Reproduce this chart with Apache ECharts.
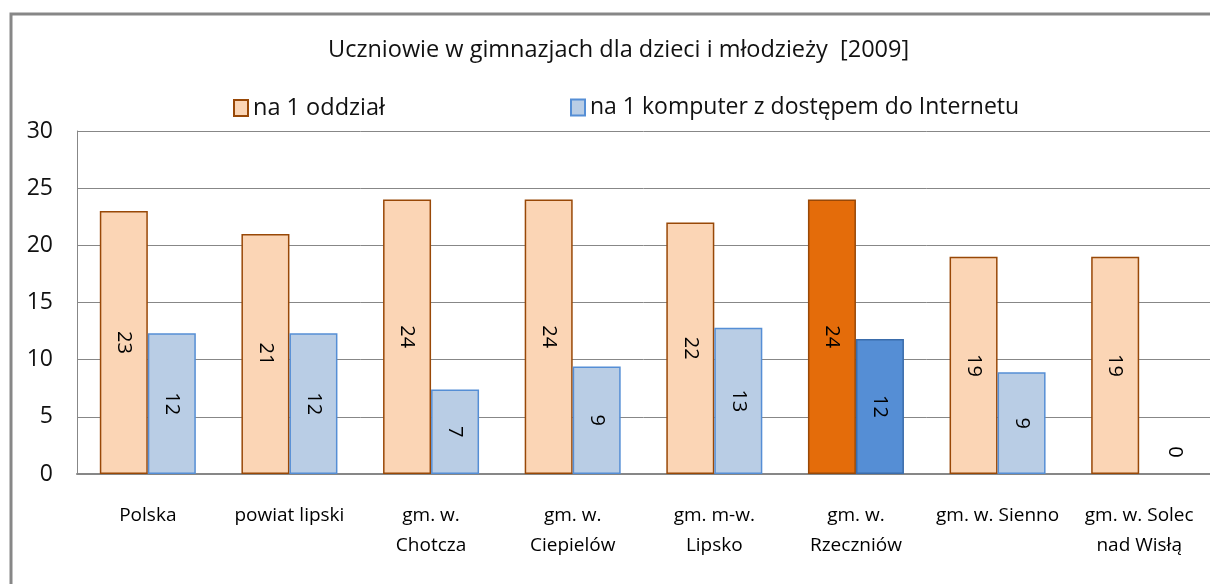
<!DOCTYPE html>
<html>
<head>
<meta charset="utf-8" />
<title>Uczniowie w gimnazjach</title>
<script src="https://cdn.jsdelivr.net/npm/echarts@6/dist/echarts.min.js"></script>
<style>
  body { margin: 0; background: #fff; }
  #main { width: 1210px; height: 584px; }
</style>
</head>
<body>
<div id="main"></div>
<script type="text/javascript">
    // dane
    var categories = ['Polska', 'powiat lipski', 'gm. w.\nChotcza', 'gm. w.\nCiepielów',
        'gm. m-w.\nLipsko', 'gm. w.\nRzeczniów', 'gm. w. Sienno', 'gm. w. Solec\nnad Wisłą'];
    var perClass = [23, 21, 24, 24, 22, 24, 19, 19];
    var perComputer = [12.3, 12.3, 7.4, 9.4, 12.8, 11.8, 8.9, 0];
    var yTicks = [0, 5, 10, 15, 20, 25, 30];
    var highlight = 5;   // gm. w. Rzeczniów

    var font = "'Open Sans', 'Noto Sans', sans-serif";

    function buildData(values, hiFill, hiBorder) {
        return values.map(function (v, i) {
            var item = { value: v };
            if (i === highlight) {
                item.itemStyle = { color: hiFill, borderColor: hiBorder };
            }
            if (v === 0) {
                item.itemStyle = { borderWidth: 0 };
                item.label = { offset: [-22, -12] };
            }
            return item;
        });
    }

    var barLabel = {
        show: true,
        position: 'inside',
        rotate: -90,
        color: '#000',
        fontSize: 20,
        fontFamily: font,
        formatter: function (p) { return Math.round(p.value); }
    };

    var myChart = echarts.init(document.getElementById('main'));
    var option = {
        animation: false,
        graphic: [{
            type: 'rect',
            shape: { x: 11, y: 14, width: 1400, height: 800 },
            style: { fill: 'none', stroke: '#878787', lineWidth: 3 }
        }],
        title: {
            text: 'Uczniowie w gimnazjach dla dzieci i młodzieży  [2009]',
            left: 323,
            top: 33,
            textStyle: { fontFamily: font, fontSize: 23.5, fontWeight: 'normal', color: '#111' }
        },
        legend: [{
            data: ['na 1 oddział'],
            left: 228,
            top: 91,
            icon: 'rect',
            itemWidth: 14,
            itemHeight: 16,
            itemGap: 5,
            textStyle: { fontFamily: font, fontSize: 23.5, color: '#111' }
        }, {
            data: ['na 1 komputer z dostępem do Internetu'],
            left: 565,
            top: 91,
            icon: 'rect',
            itemWidth: 14,
            itemHeight: 16,
            itemGap: 5,
            textStyle: { fontFamily: font, fontSize: 23, color: '#111' }
        }],
        grid: {
            left: 77,
            top: 131,
            width: 1146,
            height: 343,
            containLabel: false
        },
        xAxis: {
            type: 'category',
            data: categories,
            axisLine: { show: true, lineStyle: { color: '#878787', width: 2 } },
            axisTick: { show: false },
            axisLabel: {
                interval: 0,
                margin: 27,
                lineHeight: 30,
                fontFamily: font,
                fontSize: 19,
                color: '#000'
            }
        },
        yAxis: {
            type: 'value',
            min: 0,
            max: 30,
            interval: 5,
            axisLine: { show: true, lineStyle: { color: '#878787', width: 1 } },
            axisTick: { show: false },
            axisLabel: {
                margin: 24,
                fontFamily: font,
                fontSize: 23,
                color: '#111',
                formatter: function (v) { return yTicks.indexOf(v) >= 0 ? v : ''; }
            },
            splitLine: { lineStyle: { color: '#878787', width: 1 } }
        },
        series: [{
            name: 'na 1 oddział',
            type: 'bar',
            barWidth: 48,
            barGap: '0%',
            itemStyle: { color: '#FBD5B5', borderColor: '#984807', borderWidth: 1.5 },
            label: barLabel,
            data: buildData(perClass, '#E46C0A', '#984807')
        }, {
            name: 'na 1 komputer z dostępem do Internetu',
            type: 'bar',
            barWidth: 48,
            itemStyle: { color: '#B9CDE5', borderColor: '#558ED5', borderWidth: 1.5 },
            label: barLabel,
            data: buildData(perComputer, '#558ED5', '#3A6CAB')
        }]
    };
    myChart.setOption(option);
</script>
</body>
</html>
